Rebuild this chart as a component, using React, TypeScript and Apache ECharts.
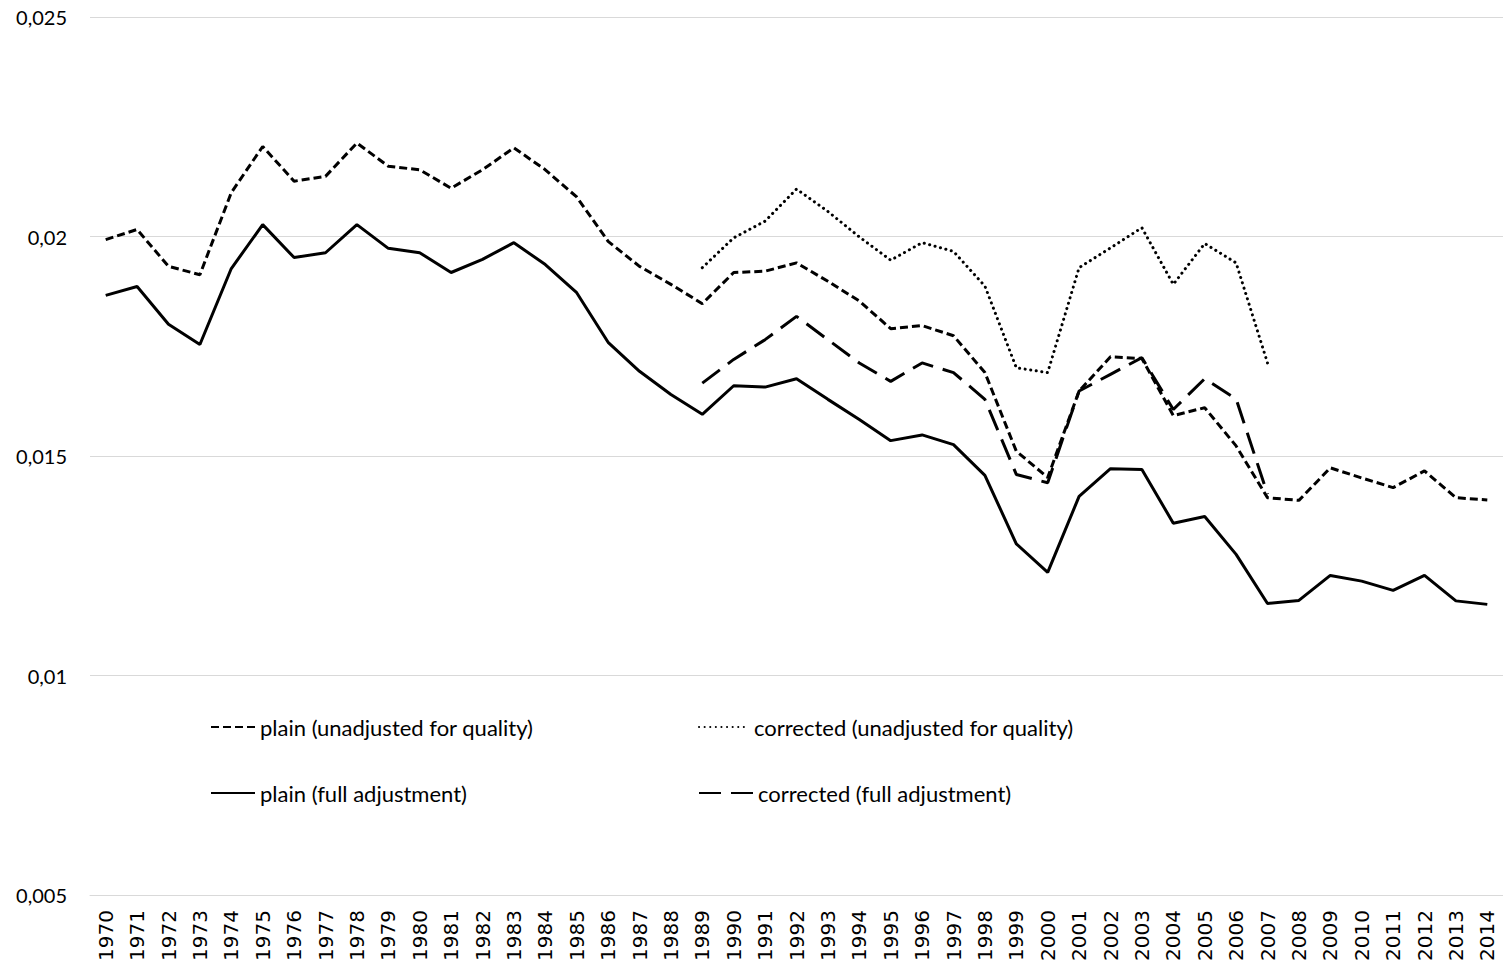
import React, { useEffect, useRef } from "react";
import * as echarts from "echarts";

const years: string[] = [];
for (let y = 1970; y <= 2014; y++) years.push(String(y));

const plainUnadjusted: number[] = [
  0.01993, 0.02016, 0.01932, 0.01913, 0.021, 0.02205, 0.02126, 0.02137, 0.02213, 0.0216,
  0.02152, 0.0211, 0.02152, 0.02202, 0.02152, 0.0209, 0.01989, 0.01932, 0.01891, 0.01847,
  0.01918, 0.01921, 0.0194, 0.01898, 0.01853, 0.0179, 0.01797, 0.01774, 0.0169, 0.01511,
  0.01451, 0.01648, 0.01726, 0.01722, 0.01592, 0.0161, 0.01523, 0.01405, 0.01399, 0.01473,
  0.0145, 0.01428, 0.01466, 0.01405, 0.014,
];

const plainFull: number[] = [
  0.01866, 0.01886, 0.018, 0.01754, 0.01927, 0.02027, 0.01952, 0.01963, 0.02027, 0.01973,
  0.01963, 0.01918, 0.01948, 0.01986, 0.01936, 0.01872, 0.01759, 0.01693, 0.0164, 0.01595,
  0.0166, 0.01657, 0.01676, 0.01629, 0.01583, 0.01535, 0.01548, 0.01526, 0.01456, 0.013,
  0.01235, 0.01408, 0.01471, 0.01469, 0.01347, 0.01362, 0.01276, 0.01164, 0.01171, 0.01228,
  0.01215, 0.01194, 0.01228, 0.0117, 0.01162,
];

const correctedUnadjusted: (number | null)[] = [
  null, null, null, null, null, null, null, null, null, null,
  null, null, null, null, null, null, null, null, null, 0.01929,
  0.01997, 0.02035, 0.02108, 0.02057, 0.01999, 0.01946, 0.01986, 0.01966, 0.01887, 0.01701,
  0.0169, 0.01929, 0.01974, 0.0202, 0.01891, 0.01984, 0.0194, 0.01712, null, null,
  null, null, null, null, null,
];

const correctedFull: (number | null)[] = [
  null, null, null, null, null, null, null, null, null, null,
  null, null, null, null, null, null, null, null, null, 0.01666,
  0.0172, 0.01765, 0.01818, 0.01765, 0.01712, 0.0167, 0.01712, 0.0169, 0.01629, 0.01458,
  0.01439, 0.01648, 0.01686, 0.01724, 0.01606, 0.01676, 0.0163, 0.01413, null, null,
  null, null, null, null, null,
];

const seriesNames = [
  "plain (unadjusted for quality)",
  "corrected (unadjusted for quality)",
  "plain (full adjustment)",
  "corrected (full adjustment)",
];

export default function App() {
  const ref = useRef<HTMLDivElement>(null);
  useEffect(() => {
    if (!ref.current) return;
    const chart = echarts.init(ref.current, undefined, { renderer: "svg" });
    const mkLegend = (name: string, left: number, top: number, w: number) => ({
      data: [name],
      left,
      top,
      itemWidth: w,
      itemHeight: 14,
      itemGap: 0,
      textStyle: { fontFamily: "Lato", fontSize: 22, color: "#000" },
      itemStyle: { opacity: 0, borderWidth: 0 },
      selectedMode: false,
    });
    chart.setOption({
      animation: false,
      backgroundColor: "#fff",
      grid: { left: 90, right: 0, top: 17, bottom: 70, containLabel: false },
      legend: [
        mkLegend(seriesNames[0], 205, 711, 44),
        mkLegend(seriesNames[1], 693, 711, 50),
        mkLegend(seriesNames[2], 205, 777, 44),
        mkLegend(seriesNames[3], 693, 777, 54),
      ],
      xAxis: {
        type: "category",
        data: years,
        boundaryGap: true,
        axisLine: { lineStyle: { color: "#d9d9d9", width: 1 } },
        axisTick: { show: false },
        axisLabel: {
          rotate: 90,
          interval: 0,
          margin: 15,
          fontFamily: "DejaVu Sans",
          fontSize: 20,
          color: "#000",
        },
      },
      yAxis: {
        type: "value",
        min: 0.005,
        max: 0.025,
        interval: 0.005,
        axisLine: { show: false },
        axisTick: { show: false },
        splitLine: { lineStyle: { color: "#d9d9d9", width: 1 } },
        axisLabel: {
          margin: 23,
          fontFamily: "Lato",
          fontSize: 20,
          color: "#000",
          formatter: (v: number) => String(Number(v.toFixed(4))).replace(".", ","),
        },
      },
      series: [
        {
          name: seriesNames[0],
          type: "line",
          data: plainUnadjusted,
          symbol: "none",
          lineStyle: { color: "#000", width: 3, type: [8, 4] },
          itemStyle: { color: "#000" },
        },
        {
          name: seriesNames[1],
          type: "line",
          data: correctedUnadjusted,
          symbol: "none",
          lineStyle: { color: "#000", width: 3, type: [0.1, 5.5], cap: "round" },
          itemStyle: { color: "#000" },
        },
        {
          name: seriesNames[2],
          type: "line",
          data: plainFull,
          symbol: "none",
          lineStyle: { color: "#000", width: 3, type: "solid" },
          itemStyle: { color: "#000" },
        },
        {
          name: seriesNames[3],
          type: "line",
          data: correctedFull,
          symbol: "none",
          lineStyle: { color: "#000", width: 3, type: [22, 10] },
          itemStyle: { color: "#000" },
        },
      ],
    });
    return () => chart.dispose();
  }, []);
  return (
    <div
      ref={ref}
      style={{ position: "fixed", left: 0, top: 0, width: 1503, height: 965, background: "#fff" }}
    />
  );
}
